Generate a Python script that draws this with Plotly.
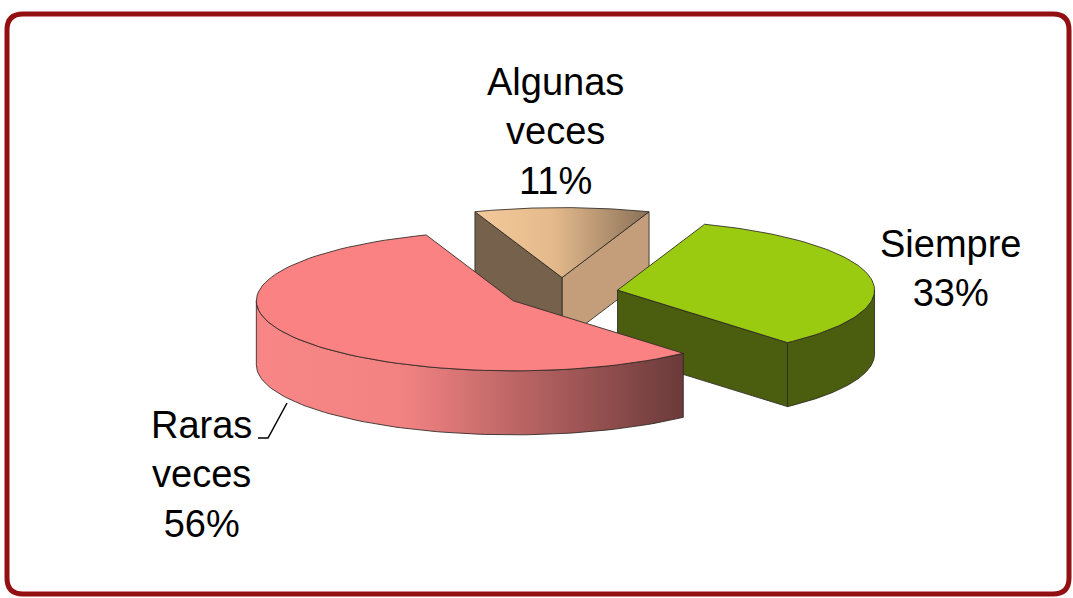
import math
import plotly.graph_objects as go

# ---- data ----
categories = ["Siempre", "Raras veces", "Algunas veces"]
values = [33, 56, 11]

# ---- layout constants (pixel space) ----
W, H = 1073, 598
CX, CY = 562, 293        # pie centre
RA, RB = 257, 70          # ellipse radii of the tilted top face
DEPTH = 64                # thickness of the pie
EXPLODE = 0.22            # explosion as fraction of radius
START = 70.2              # angle where first slice starts (clockwise)

styles = {
    "Siempre": dict(top="#9BCB10", side="#4B5E10", wall_lo="#4B5E10", wall_hi="#4B5E10",
                    top_grad=None, side_grad=None),
    "Raras veces": dict(top="#FA8282", side="#F08080", wall_lo="#B05A5A", wall_hi="#B05A5A",
                        top_grad=None,
                        side_grad=[[0, "#F88686"], [0.35, "#F28282"], [1, "#6B3A3A"]]),
    "Algunas veces": dict(top="#E0B88C", side="#8A7158", wall_lo="#C49E7A", wall_hi="#76624C",
                          top_grad=[[0, "#F4C99A"], [0.45, "#E4BA8C"], [1, "#8A7158"]],
                          side_grad=None),
}
draw_order = ["Algunas veces", "Siempre", "Raras veces"]
EDGE = dict(color="rgba(45,40,35,0.85)", width=1)

total = sum(values)
geo = {}
cum = 0.0
for cat, v in zip(categories, values):
    t_hi = START - cum / total * 360
    t_lo = t_hi - v / total * 360
    cum += v
    mid = math.radians((t_hi + t_lo) / 2)
    vx = CX + EXPLODE * RA * math.cos(mid)
    vy = CY - EXPLODE * RB * math.sin(mid)
    geo[cat] = (t_lo, t_hi, vx, vy)


def rim(vx, vy, t):
    r = math.radians(t)
    return vx + RA * math.cos(r), vy - RB * math.sin(r)


def arc(vx, vy, t0, t1, n=80):
    xs, ys = [], []
    for i in range(n + 1):
        t = t0 + (t1 - t0) * i / n
        x, y = rim(vx, vy, t)
        xs.append(x)
        ys.append(y)
    return xs, ys


fig = go.Figure()


def add_poly(xs, ys, color, grad=None):
    kw = dict(x=xs, y=ys, mode="lines", fill="toself", line=EDGE,
              hoverinfo="skip", showlegend=False)
    if grad is not None:
        kw["fillgradient"] = dict(type="horizontal", colorscale=grad)
    else:
        kw["fillcolor"] = color
    fig.add_trace(go.Scatter(**kw))


for cat in draw_order:
    t_lo, t_hi, vx, vy = geo[cat]
    st = styles[cat]
    # radial walls
    for t, key, sign in ((t_lo, "wall_lo", -90), (t_hi, "wall_hi", 90)):
        nrm = math.radians(t + sign)
        if math.sin(nrm) < -1e-6:
            px, py = rim(vx, vy, t)
            add_poly([vx, px, px, vx, vx], [vy, py, py + DEPTH, vy + DEPTH, vy], st[key])
    # outer curved wall (front half only)
    for k in range(-3, 3):
        a0 = max(t_lo, 180 + 360 * k)
        a1 = min(t_hi, 360 + 360 * k)
        if a1 - a0 > 0.01:
            xs, ys = arc(vx, vy, a0, a1)
            bx = xs[::-1]
            by = [y + DEPTH for y in ys[::-1]]
            add_poly(xs + bx + [xs[0]], ys + by + [ys[0]], st["side"], st["side_grad"])
    # top face
    xs, ys = arc(vx, vy, t_lo, t_hi)
    add_poly([vx] + xs + [vx], [vy] + ys + [vy], st["top"], st["top_grad"])

# ---- labels ----
label_pos = {
    "Algunas veces": (555, 131),
    "Siempre": (951, 268),
    "Raras veces": (201, 474),
}
for cat, v in zip(categories, values):
    x, y = label_pos[cat]
    fig.add_annotation(x=x, y=y, xref="x", yref="y", showarrow=False,
                       text=cat.replace(" ", "<br>") + f"<br>{v}%",
                       font=dict(family="Liberation Sans, Arial, sans-serif", size=38, color="#000"),
                       align="center", xanchor="center", yanchor="middle")

# leader line for "Raras veces"
fig.add_shape(type="path", path="M 258 438 L 268 438 L 287 403", xref="x", yref="y",
              line=dict(color="#000", width=1.5))

# rounded frame
r = 16
x0, y0, x1, y1 = 7, 14, 1069, 594
frame = (f"M {x0+r} {y0} L {x1-r} {y0} Q {x1} {y0} {x1} {y0+r} L {x1} {y1-r} "
         f"Q {x1} {y1} {x1-r} {y1} L {x0+r} {y1} Q {x0} {y1} {x0} {y1-r} "
         f"L {x0} {y0+r} Q {x0} {y0} {x0+r} {y0} Z")
fig.add_shape(type="path", path=frame, xref="x", yref="y",
              line=dict(color="#931012", width=5), layer="below")

fig.update_layout(
    width=W, height=H, margin=dict(l=0, r=0, t=0, b=0),
    paper_bgcolor="white", plot_bgcolor="white",
    xaxis=dict(range=[0, W], visible=False, fixedrange=True),
    yaxis=dict(range=[H, 0], visible=False, fixedrange=True),
    showlegend=False,
)

fig.write_html("out.html", config={"displayModeBar": False},
               post_script="document.body.style.margin='0px';document.body.style.overflow='hidden';")
